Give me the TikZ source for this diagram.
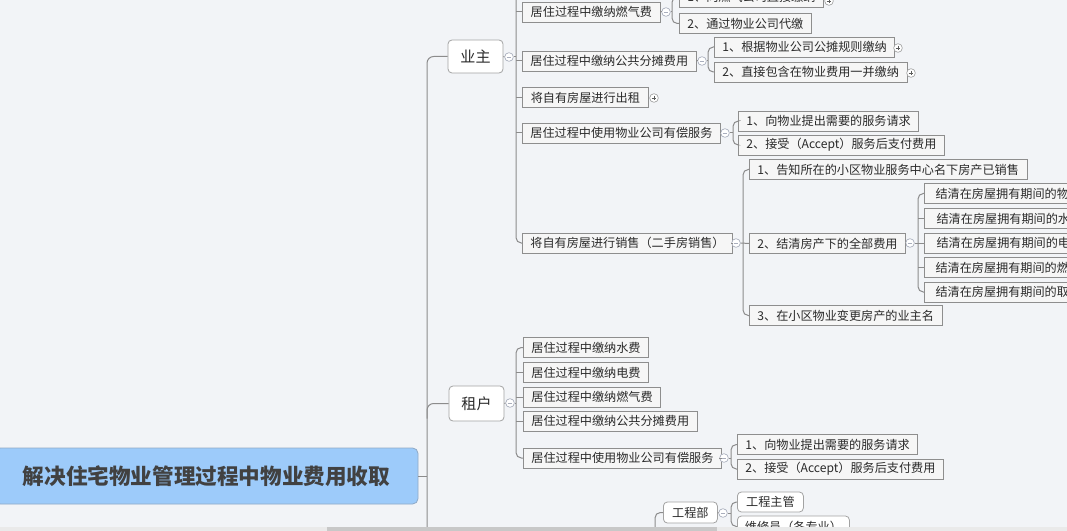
\documentclass[tikz,border=0pt]{standalone}
\usepackage{fontspec}
\setmainfont{Noto Sans CJK SC}
\usetikzlibrary{calc}
\definecolor{bg}{HTML}{F2F4F7}
\definecolor{rootfill}{HTML}{9DCBFA}
\definecolor{rootdraw}{HTML}{8FA9C6}
\definecolor{roottxt}{HTML}{414141}
\definecolor{txt}{HTML}{2A2A2A}
\definecolor{boxdraw}{HTML}{8E8E8E}
\definecolor{boxfill}{HTML}{F6F6F6}
\definecolor{lvdraw}{HTML}{A3A3A3}
\definecolor{linec}{HTML}{8C8C8C}
\definecolor{circ}{HTML}{A9AEBD}
\definecolor{pluscol}{HTML}{5A5A5A}
\definecolor{track}{HTML}{EAEAEA}
\definecolor{thumb}{HTML}{C8C8C8}
\tikzset{
  conn/.style={draw=linec, line width=0.75pt},
  bx/.style={draw=boxdraw, fill=boxfill, line width=0.6pt, anchor=west,
    minimum height=15pt, inner xsep=6pt, inner ysep=0pt, text=txt},
  bw/.style={minimum width={#1*0.75pt}},
  lvone/.style={draw=lvdraw, fill=white, rounded corners=3pt, line width=0.6pt,
    inner sep=0pt, text=txt},
  rootbox/.style={draw=rootdraw, fill=rootfill, rounded corners=4pt, line width=0.6pt,
    minimum width={423*0.75pt}, minimum height={56*0.75pt}, inner sep=0pt,
    font=\fontsize{16.2}{19}\selectfont\bfseries, text=roottxt},
  coll/.style={circle, draw=circ, fill=white, line width=0.5pt, minimum size=6.5pt, inner sep=0pt,
    path picture={\draw[circ, line width=0.5pt]
      ($(path picture bounding box.west)+(1.5pt,0)$) -- ($(path picture bounding box.east)+(-1.5pt,0)$);}},
  expd/.style={circle, draw=lvdraw, fill=white, line width=0.5pt, minimum size=6.5pt, inner sep=0pt,
    path picture={\draw[pluscol, line width=0.5pt]
      ($(path picture bounding box.west)+(1.5pt,0)$) -- ($(path picture bounding box.east)+(-1.5pt,0)$)
      ($(path picture bounding box.north)+(0,-1.5pt)$) -- ($(path picture bounding box.south)+(0,1.5pt)$);}}
}
\begin{document}
\begin{tikzpicture}[x=0.75pt, y=-0.75pt, font=\fontsize{9.1}{11}\selectfont]
\useasboundingbox (0,0) rectangle (1067,531);
\clip (0,0) rectangle (1067,531);
\fill[bg] (0,0) rectangle (1067,531);

% root and level 1
\node[rootbox] (root) at (206.5,476) {解决住宅物业管理过程中物业费用收取};
\node[lvone, minimum width={55*0.75pt}, minimum height={33*0.75pt}, font=\fontsize{11.3}{13}\selectfont] (yz) at (475.5,56.5) {业主};
\node[lvone, minimum width={55*0.75pt}, minimum height={35*0.75pt}, font=\fontsize{11.3}{13}\selectfont] (zh) at (476.5,403.5) {租户};

% owner children
\node[bx, bw=138] (a1) at (522,12) {居住过程中缴纳燃气费};
\node[bx, bw=172] (a2) at (522,61) {居住过程中缴纳公共分摊费用};
\node[bx, bw=126] (a3) at (522,97.5) {将自有房屋进行出租};
\node[bx, bw=190] (a4) at (522,133) {居住过程中使用物业公司有偿服务};
\node[bx, bw=208] (a5) at (522,243) {将自有房屋进行销售（二手房销售）};

\node[bx, bw=144] (b11) at (679,-3) {1、向燃气公司直接缴纳};
\node[bx, bw=129] (b12) at (679,23.5) {2、通过物业公司代缴};
\node[bx, bw=179] (b21) at (714,47) {1、根据物业公司公摊规则缴纳};
\node[bx, bw=190] (b22) at (714,72) {2、直接包含在物业费用一并缴纳};
\node[bx, bw=178] (b41) at (738,121) {1、向物业提出需要的服务请求};
\node[bx, bw=205] (b42) at (738,145) {2、接受（Accept）服务后支付费用};
\node[bx, bw=273] (b51) at (749,169.5) {1、告知所在的小区物业服务中心名下房产已销售};
\node[bx, bw=155] (b52) at (749,243.5) {2、结清房产下的全部费用};
\node[bx, bw=190] (b53) at (749,315.5) {3、在小区物业变更房产的业主名};

\node[bx, bw=180] (c1) at (924,193.5) {结清在房屋拥有期间的物业费};
\node[bx, bw=170] (c2) at (924,218.5) {结清在房屋拥有期间的水费};
\node[bx, bw=170] (c3) at (924,243) {结清在房屋拥有期间的电费};
\node[bx, bw=180] (c4) at (924,267.5) {结清在房屋拥有期间的燃气费};
\node[bx, bw=180] (c5) at (924,292) {结清在房屋拥有期间的取暖费};

% tenant children
\node[bx, bw=125] (d1) at (523,347.5) {居住过程中缴纳水费};
\node[bx, bw=125] (d2) at (523,372.5) {居住过程中缴纳电费};
\node[bx, bw=137] (d3) at (523,397) {居住过程中缴纳燃气费};
\node[bx, bw=172] (d4) at (523,421) {居住过程中缴纳公共分摊费用};
\node[bx, bw=194] (d5) at (523,458) {居住过程中使用物业公司有偿服务};
\node[bx, bw=180] (e1) at (737,444.5) {1、向物业提出需要的服务请求};
\node[bx, bw=206] (e2) at (737,469) {2、接受（Accept）服务后支付费用};

% engineering
\node[lvone, anchor=west, minimum width={54*0.75pt}, minimum height={21*0.75pt}] (f) at (663,512.5) {工程部};
\node[lvone, anchor=west, minimum width={66*0.75pt}, minimum height={20*0.75pt}] (g1) at (737,502) {工程主管};
\node[lvone, anchor=west, minimum width={112*0.75pt}, minimum height={21*0.75pt}] (g2) at (737,526.5) {维修员（各专业）};

% collapse circles
\node[coll] (yzc) at (509,57) {};
\node[coll] (zhc) at (510,403) {};
\node[coll] (a1c) at (666,12) {};
\node[coll] (a2c) at (702,61) {};
\node[coll] (a4c) at (725,133) {};
\node[coll] (a5c) at (736,243) {};
\node[coll] (b52c) at (910,243) {};
\node[coll] (d5c) at (724,458) {};
\node[coll] (fc) at (723,513) {};

% expand markers
\node[expd] (p11) at (829,1) {};
\node[expd] (p21) at (898,48) {};
\node[expd] (p22) at (911,73) {};
\node[expd] (p3) at (654,98) {};

% spine coordinates
\coordinate (tr) at (427,545);
\coordinate (syz) at (516,-10);
\coordinate (szh) at (516,0);
\coordinate (sa1) at (672,0);
\coordinate (sa2) at (708,0);
\coordinate (sa4) at (733,0);
\coordinate (sa5) at (743,0);
\coordinate (sb52) at (918,0);
\coordinate (sd5) at (731,0);
\coordinate (sf) at (731,0);
\coordinate (tf) at (655,545);

% trunk
\draw[conn] (root.east) -- (root.east -| tr);
\draw[conn, rounded corners=5pt] (yz.west) -- (yz.west -| tr) -- (tr);
\draw[conn, rounded corners=5pt] (zh.west) -- (zh.west -| tr) -- ($(zh.west -| tr)+(0,15)$);

% owner
\draw[conn] (yz.east) -- (yzc.west);
\draw[conn] (yzc.east) -- (yzc.east -| syz);
\draw[conn, rounded corners=4pt] (syz) -- (a5.west -| syz) -- (a5.west);
\foreach \n in {a1,a2,a3,a4} \draw[conn] (\n.west -| syz) -- (\n.west);

\draw[conn] (a1.east) -- (a1c.west);
\draw[conn] (a1c.east) -- (a1c.east -| sa1);
\draw[conn, rounded corners=4pt] (b11.west) -- (b11.west -| sa1) -- (b12.west -| sa1) -- (b12.west);

\draw[conn] (a2.east) -- (a2c.west);
\draw[conn] (a2c.east) -- (a2c.east -| sa2);
\draw[conn, rounded corners=4pt] (b21.west) -- (b21.west -| sa2) -- (b22.west -| sa2) -- (b22.west);

\draw[conn] (a4.east) -- (a4c.west);
\draw[conn] (a4c.east) -- (a4c.east -| sa4);
\draw[conn, rounded corners=4pt] (b41.west) -- (b41.west -| sa4) -- (b42.west -| sa4) -- (b42.west);

\draw[conn] (a5.east) -- (a5c.west);
\draw[conn] (a5c.east) -- (b52.west);
\draw[conn, rounded corners=4pt] (b51.west) -- (b51.west -| sa5) -- (b53.west -| sa5) -- (b53.west);

\draw[conn] (b52.east) -- (b52c.west);
\draw[conn] (b52c.east) -- (c3.west);
\draw[conn, rounded corners=4pt] (c1.west) -- (c1.west -| sb52) -- (c5.west -| sb52) -- (c5.west);
\foreach \n in {c2,c4} \draw[conn] (\n.west -| sb52) -- (\n.west);

% tenant
\draw[conn] (zh.east) -- (zhc.west);
\draw[conn] (zhc.east) -- (zhc.east -| szh);
\draw[conn, rounded corners=4pt] (d1.west) -- (d1.west -| szh) -- (d5.west -| szh) -- (d5.west);
\foreach \n in {d2,d3,d4} \draw[conn] (\n.west -| szh) -- (\n.west);

\draw[conn] (d5.east) -- (d5c.west);
\draw[conn] (d5c.east) -- (d5c.east -| sd5);
\draw[conn, rounded corners=4pt] (e1.west) -- (e1.west -| sd5) -- (e2.west -| sd5) -- (e2.west);

% engineering
\draw[conn, rounded corners=4pt] (f.west) -- (f.west -| tf) -- (tf);
\draw[conn] (f.east) -- (fc.west);
\draw[conn] (fc.east) -- (fc.east -| sf);
\draw[conn, rounded corners=4pt] (g1.west) -- (g1.west -| sf) -- (g2.west -| sf) -- (g2.west);

% scrollbar
\fill[track] (0,527) rectangle (1067,531);
\fill[thumb] (327,527) rectangle (717,531);
\end{tikzpicture}
\end{document}
